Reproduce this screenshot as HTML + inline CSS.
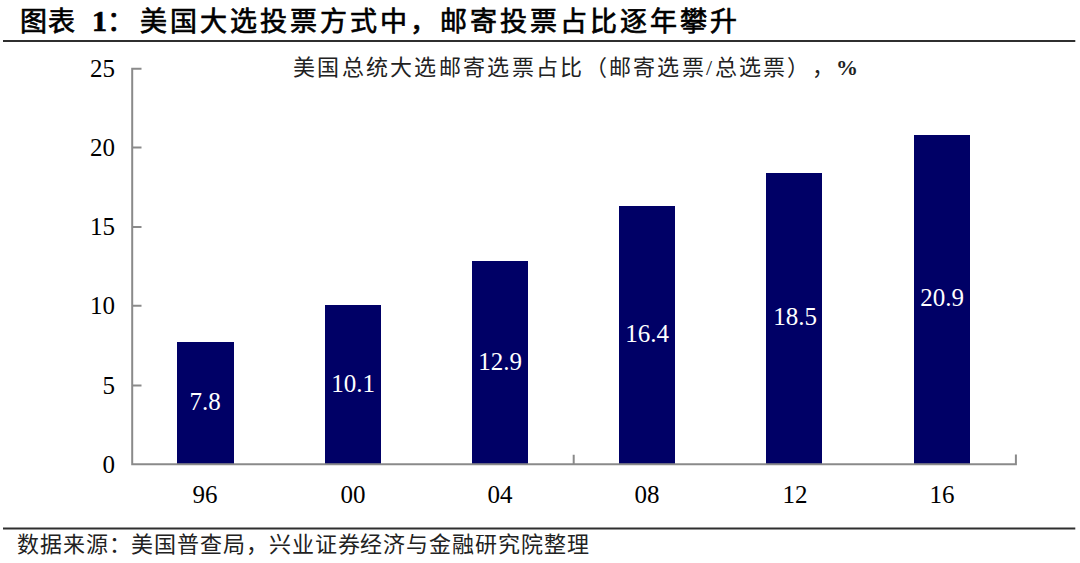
<!DOCTYPE html>
<html lang="zh-CN">
<head>
<meta charset="utf-8">
<style>
html,body{margin:0;padding:0;background:#fff;}
body{width:1080px;height:563px;position:relative;overflow:hidden;font-family:"Liberation Serif",serif;color:#000;}
.abs{position:absolute;white-space:nowrap;text-spacing-trim:space-all;}
.title{top:2px;font-size:27px;font-weight:400;line-height:40px;-webkit-text-stroke:0.7px #000;}
.ctitle{left:293px;top:53px;font-size:22px;line-height:30px;letter-spacing:2.3px;color:#222;}
.ylab{right:965px;font-size:25px;line-height:30px;text-align:right;}
.xlab{font-size:25px;line-height:30px;text-align:center;width:100px;top:480px;}
.bar{position:absolute;background:#000066;}
.val{position:absolute;color:#fff;font-size:25px;line-height:30px;text-align:center;width:100px;}
.src{left:17px;top:531px;font-size:22px;line-height:28px;letter-spacing:0.9px;color:#222;}
svg{position:absolute;left:0;top:0;}
</style>
</head>
<body>
<div class="abs title" style="left:20px;letter-spacing:1px">图表</div>
<div class="abs title" style="left:92px;top:1px;font-size:30px;font-weight:bold">1</div>
<div class="abs title" style="left:107px">：</div>
<div class="abs title" style="left:140px;letter-spacing:3px">美国大选投票方式中，邮寄投票占比逐年攀升</div>
<div class="abs ctitle">美国总统大选邮寄选票占比（邮寄选票/总选票），<b>%</b></div>

<div class="bar" style="left:177px;width:57px;top:342px;height:122px"></div>
<div class="bar" style="left:325px;width:56px;top:305px;height:159px"></div>
<div class="bar" style="left:472px;width:56px;top:261px;height:203px"></div>
<div class="bar" style="left:619px;width:56px;top:206px;height:258px"></div>
<div class="bar" style="left:766px;width:56px;top:173px;height:291px"></div>
<div class="bar" style="left:914px;width:56px;top:135px;height:329px"></div>

<svg width="1080" height="563" viewBox="0 0 1080 563">
<g stroke="#2f2f2f" stroke-width="2" fill="none">
<line x1="3" y1="41" x2="1075.3" y2="41"/>
<line x1="3" y1="528.5" x2="1075.3" y2="528.5"/>
</g>
<g stroke="#8a8a8a" stroke-width="2" fill="none" stroke-linecap="butt">
<path d="M141.5 68.7 H132.2 V464.2 H1015.9 V454.5"/>
<path d="M132.2 147.4 H141.5 M132.2 227 H141.5 M132.2 305.7 H141.5 M132.2 385.4 H141.5 M573.7 464.2 V454.8"/>
</g>
</svg>

<div class="abs ylab" style="top:54px">25</div>
<div class="abs ylab" style="top:133px">20</div>
<div class="abs ylab" style="top:212px">15</div>
<div class="abs ylab" style="top:291px">10</div>
<div class="abs ylab" style="top:371px">5</div>
<div class="abs ylab" style="top:450px">0</div>

<div class="abs xlab" style="left:155px">96</div>
<div class="abs xlab" style="left:303px">00</div>
<div class="abs xlab" style="left:450px">04</div>
<div class="abs xlab" style="left:597px">08</div>
<div class="abs xlab" style="left:745px">12</div>
<div class="abs xlab" style="left:892px">16</div>

<div class="val" style="left:155px;top:387px">7.8</div>
<div class="val" style="left:303px;top:369px">10.1</div>
<div class="val" style="left:450px;top:347px">12.9</div>
<div class="val" style="left:597px;top:319px">16.4</div>
<div class="val" style="left:745px;top:302px">18.5</div>
<div class="val" style="left:892px;top:283px">20.9</div>

<div class="abs src">数据来源：美国普查局，兴业证券经济与金融研究院整理</div>
</body>
</html>
